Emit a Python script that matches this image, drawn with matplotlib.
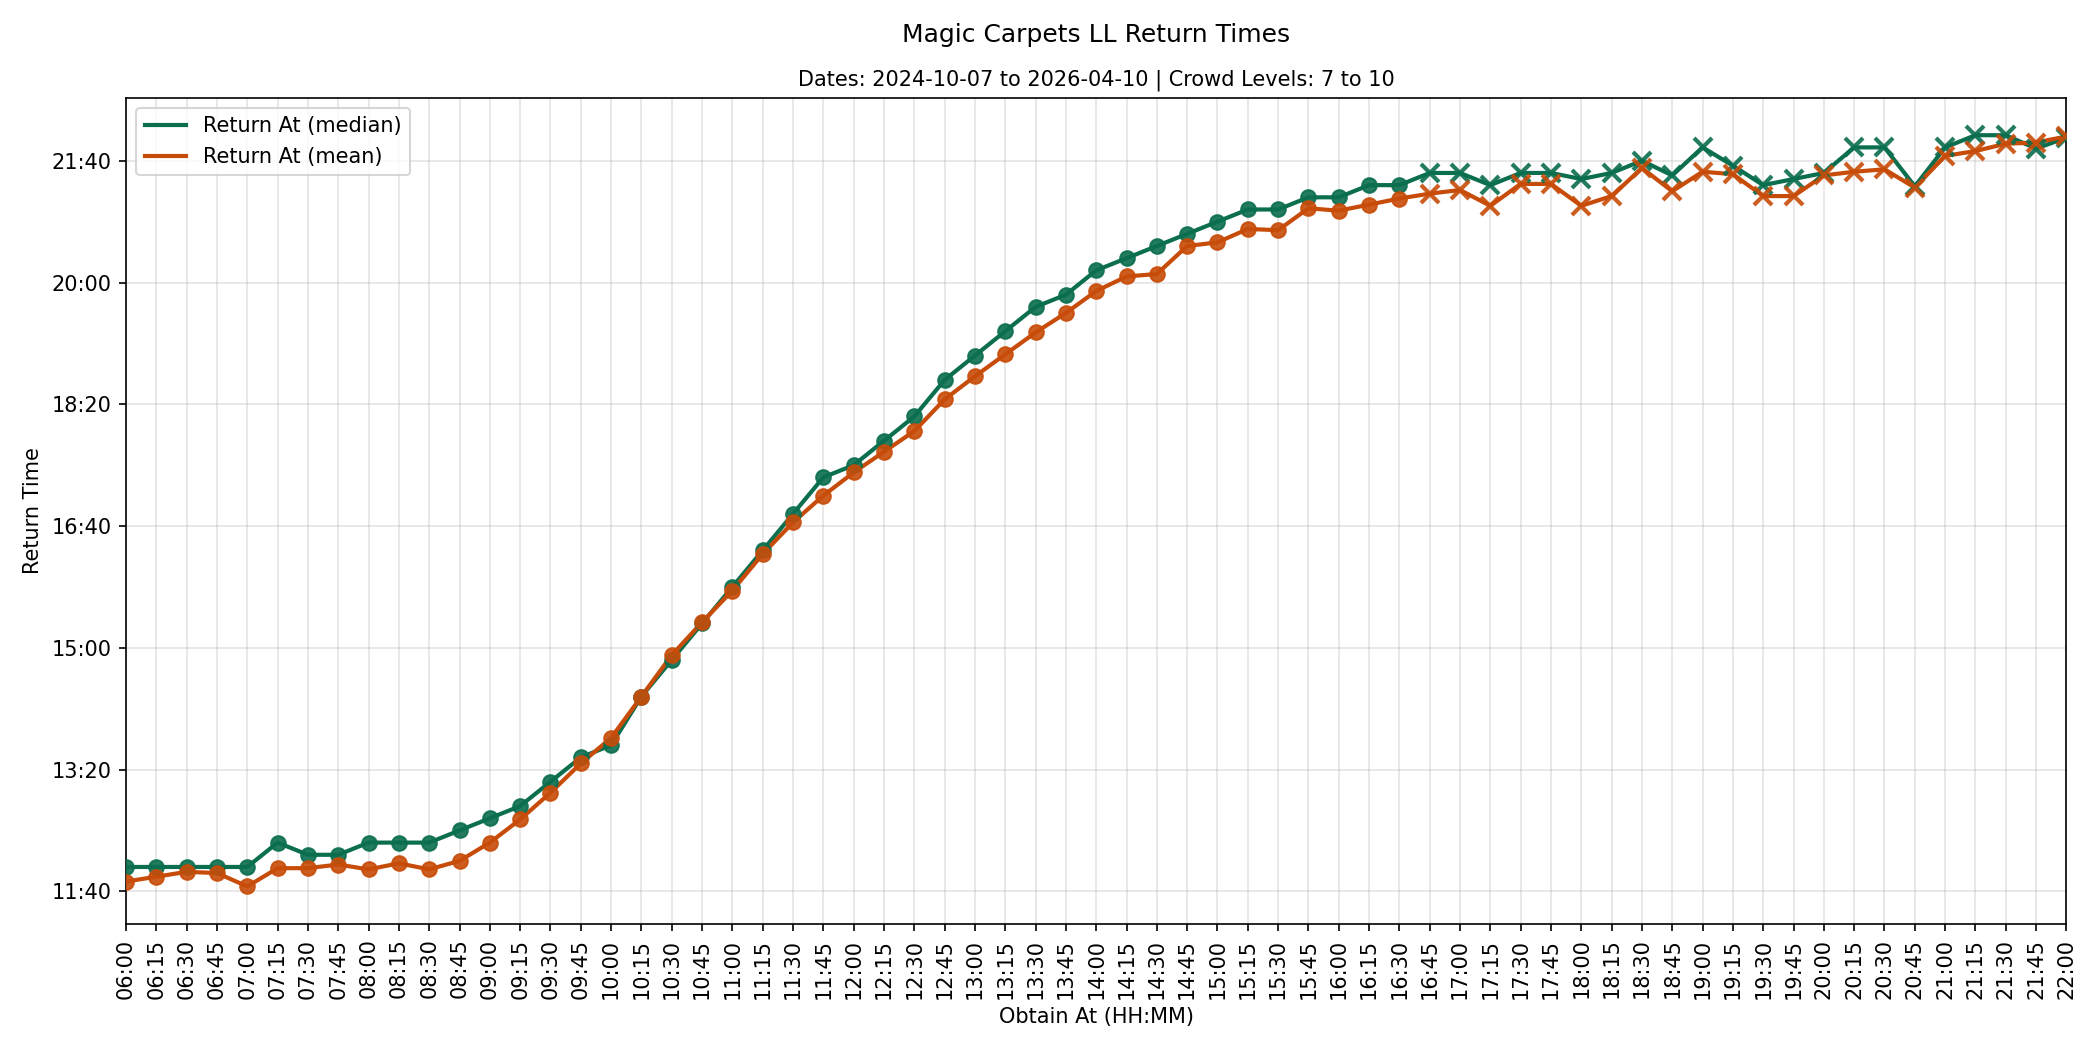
import matplotlib
matplotlib.use("Agg")
import matplotlib.pyplot as plt
from matplotlib.ticker import MultipleLocator, FuncFormatter
import numpy as np

obtain_labels = [f"{h:02d}:{m:02d}" for h in range(6, 22) for m in (0, 15, 30, 45)] + ["22:00"]

median_minutes = [
    720, 720, 720, 720, 720, 740, 730, 730, 740, 740, 740, 750, 760, 770, 790, 810,
    820, 860, 890, 920, 950, 980, 1010, 1040, 1050, 1070, 1090, 1120, 1140, 1160, 1180, 1190,
    1210, 1220, 1230, 1240, 1250, 1260, 1260, 1270, 1270, 1280, 1280, 1290, 1290, 1280, 1290, 1290,
    1285, 1290, 1300, 1288, 1311, 1296, 1280, 1285, 1290, 1311, 1311, 1279, 1311, 1321, 1321, 1310,
    1319,
]
mean_minutes = [
    708, 712, 716, 715, 704, 719, 719, 722, 718, 723, 718, 725, 740, 759, 781, 805,
    826, 860, 894, 921, 947, 977, 1003, 1025, 1044, 1061, 1078, 1104, 1123, 1141, 1159, 1175,
    1193, 1205, 1207, 1230, 1233, 1244, 1243, 1261, 1259, 1264, 1269, 1273, 1276, 1263, 1281, 1281,
    1263, 1271, 1294, 1275, 1291, 1289, 1271, 1271, 1288, 1291, 1293, 1278, 1304, 1308, 1314, 1315,
    1320,
]
# label where marker style switches from circles to crosses
switch_label = "16:45"

green = "#0b6e4f"
orange = "#c84c09"

fig = plt.figure(figsize=(14, 7), dpi=150)
ax = fig.add_axes([0.060, 0.120, 0.924, 0.787])

x = np.arange(len(obtain_labels))
sw = obtain_labels.index(switch_label)
med = np.array(median_minutes, dtype=float)
mea = np.array(mean_minutes, dtype=float)

ax.plot(x, med, color=green, lw=2, label="Return At (median)", zorder=3)
ax.plot(x, mea, color=orange, lw=2, label="Return At (mean)", zorder=3)
for arr, c in ((med, green), (mea, orange)):
    ax.plot(x[:sw], arr[:sw], ls="none", marker="o", ms=7, color=c, alpha=0.9, zorder=4)
    ax.plot(x[sw:], arr[sw:], ls="none", marker="x", ms=9, mew=2, color=c, alpha=0.9, zorder=4)

ax.set_xlim(x[0], x[-1])
ax.set_xticks(x)
ax.set_xticklabels(obtain_labels, rotation=90)
ax.yaxis.set_major_locator(MultipleLocator(100))
ax.yaxis.set_major_formatter(FuncFormatter(lambda v, p: f"{int(v)//60:02d}:{int(v)%60:02d}"))
ax.margins(y=0.05)
ax.grid(True, color="#b0b0b0", alpha=0.35, lw=0.8)
ax.set_axisbelow(True)

ax.set_xlabel("Obtain At (HH:MM)")
ax.set_ylabel("Return Time")
ax.set_title("Dates: 2024-10-07 to 2026-04-10 | Crowd Levels: 7 to 10", fontsize=10)
fig.text(0.060 + 0.924 / 2, 0.967, "Magic Carpets LL Return Times", fontsize=12,
         ha="center", va="center")
ax.legend(loc="upper left")

fig.savefig("out.png", dpi=150)
